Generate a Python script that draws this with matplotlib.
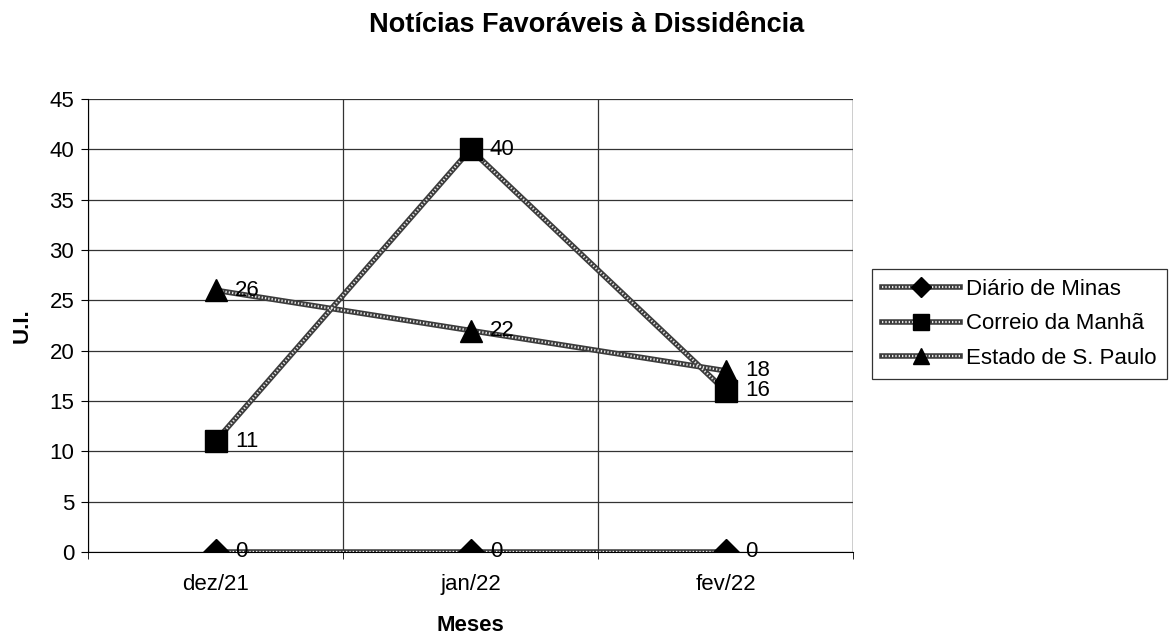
import matplotlib.pyplot as plt
from matplotlib.lines import Line2D
from matplotlib.legend_handler import HandlerTuple

plt.rcParams['font.family'] = ['Liberation Sans', 'DejaVu Sans']

meses = ["dez/21", "jan/22", "fev/22"]
series = ["Diário de Minas", "Correio da Manhã", "Estado de S. Paulo"]
diario = [0, 0, 0]
correio = [11, 40, 16]
estado = [26, 22, 18]
markers = ["D", "s", "^"]
msizes = [13, 15.5, 15.5]

base_c = "#3c3c3c"
dots = (0, (0.6, 0.9))

fig = plt.figure(figsize=(11.74, 6.39), dpi=100)
ax = fig.add_axes([0.075, 0.1362, 0.6516, 0.7089])

x = list(range(len(meses)))
handles = []
for vals, mk, ms in zip([diario, correio, estado], markers, msizes):
    ax.plot(x, vals, color=base_c, lw=4, solid_capstyle="butt", zorder=3)
    ax.plot(x, vals, color="#e8e8e8", lw=1.6, linestyle=dots, zorder=4)
    ax.plot(x, vals, linestyle="none", marker=mk, markersize=ms,
            color="black", zorder=5)
    h = (Line2D([], [], color=base_c, lw=4),
         Line2D([], [], color="#e8e8e8", lw=1.6, linestyle=dots),
         Line2D([], [], linestyle="none", marker=mk, markersize=ms * 0.75, color="black"))
    handles.append(h)
    for xi, v in zip(x, vals):
        ax.annotate(str(v), (xi, v), xytext=(14, 0), textcoords="offset points",
                    va="center", ha="left", fontsize=16, zorder=6)

ax.set_xlim(-0.5, 2.5)
ax.set_ylim(0, 45)
ax.set_yticks(range(0, 46, 5))
ax.set_xticks(x)
ax.set_xticklabels(meses)
ax.set_xticks([-0.5, 0.5, 1.5, 2.5], minor=True)
ax.tick_params(axis="x", which="major", length=0, pad=16, labelsize=16)
ax.tick_params(axis="x", which="minor", length=5, direction="out", color="black")
ax.tick_params(axis="y", length=5, direction="out", labelsize=16, color="black", pad=5)
ax.grid(True, axis="y", color="#333", lw=0.9)
ax.grid(True, axis="x", which="minor", color="#333", lw=0.9)
ax.set_axisbelow(True)
for s in ["top", "right"]:
    ax.spines[s].set_visible(False)
ax.plot([2.5, 2.5], [0, 45], color="#333", lw=0.9, zorder=1)

ax.set_xlabel("Meses", fontsize=16, fontweight="bold", labelpad=14)
ax.set_ylabel("U.I.", fontsize=16, fontweight="bold", labelpad=12)
fig.suptitle("Notícias Favoráveis à Dissidência", fontsize=19.5, fontweight="bold", y=0.982)

leg = fig.legend(handles, series, loc="upper left", bbox_to_anchor=(0.7428, 0.579),
                 handler_map={tuple: HandlerTuple(ndivide=1)}, fontsize=16,
                 frameon=True, fancybox=False, edgecolor="black", handlelength=3.5,
                 handletextpad=0.3, borderpad=0.45, labelspacing=0.6, borderaxespad=0)
leg.get_frame().set_linewidth(0.9)

fig.savefig("out.png", dpi=100)
